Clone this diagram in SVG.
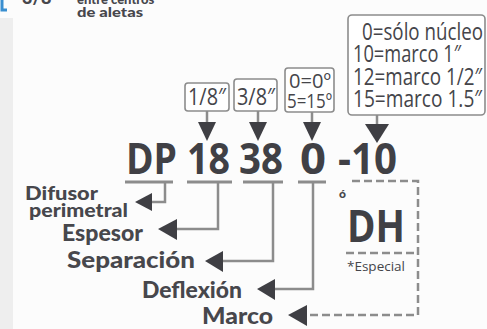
<svg xmlns="http://www.w3.org/2000/svg" width="487" height="329" viewBox="0 0 487 329">
<defs>
<style>
.bg{fill:#fcfcfc}
.big{font-family:"Open Sans","DejaVu Sans",sans-serif;font-weight:700;fill:#404045}
.lbl{font-family:"Lato","DejaVu Sans",sans-serif;font-weight:900;fill:#47474c}
.box{fill:#ffffff;stroke:#8c8c8c;stroke-width:1.6}
.bt{font-family:"Open Sans","DejaVu Sans",sans-serif;fill:#45454a}
.ul{stroke:#8c8c8c;stroke-width:3;fill:none}
.cn{stroke:#8c8c8c;stroke-width:2.5;fill:none}
.dash{stroke:#8c8c8c;stroke-width:2.5;fill:none;stroke-dasharray:8 4}
.ah{fill:#3f3f44}
</style>
</defs>
<rect class="bg" x="0" y="0" width="487" height="329"/>
<rect x="0" y="18" width="13" height="311" fill="#eeeeee"/>

<g id="header">
<path d="M2 0 V10 H7" stroke="#3a8fd0" stroke-width="3" fill="none"/>
<text class="lbl" x="22" y="4" font-size="18">3/8</text>
<text class="lbl" x="77" y="4" font-size="13">entre centros</text>
<text class="lbl" x="77" y="17" font-size="14" textLength="66" lengthAdjust="spacingAndGlyphs">de aletas</text>
</g>

<g id="code">
<text class="big" x="126" y="174" font-size="43" textLength="51" lengthAdjust="spacingAndGlyphs">DP</text>
<text class="big" x="187" y="174" font-size="43" textLength="43" lengthAdjust="spacingAndGlyphs">18</text>
<text class="big" x="239" y="174" font-size="43" textLength="44" lengthAdjust="spacingAndGlyphs">38</text>
<text class="big" x="300" y="174" font-size="43" textLength="26" lengthAdjust="spacingAndGlyphs">0</text>
<text class="big" x="338" y="174" font-size="43" textLength="59" lengthAdjust="spacingAndGlyphs">-10</text>
</g>

<g id="box-18">
<rect class="box" x="185" y="83" width="44" height="28" rx="3"/>
<text class="bt" x="188" y="105" font-size="23" textLength="38" lengthAdjust="spacingAndGlyphs">1/8″</text>
</g>
<g id="box-38">
<rect class="box" x="234" y="79" width="43" height="32" rx="3"/>
<text class="bt" x="237" y="105" font-size="23" textLength="38" lengthAdjust="spacingAndGlyphs">3/8″</text>
</g>
<g id="box-0">
<rect class="box" x="285" y="68" width="49" height="44" rx="3"/>
<text class="bt" x="289" y="88" font-size="20" textLength="42" lengthAdjust="spacingAndGlyphs">0=0º</text>
<text class="bt" x="287" y="108" font-size="20" textLength="45" lengthAdjust="spacingAndGlyphs">5=15º</text>
</g>
<g id="box-10">
<rect class="box" x="348" y="15" width="137" height="100" rx="4"/>
<text class="bt" x="362" y="40" font-size="23" textLength="121" lengthAdjust="spacingAndGlyphs">0=sólo núcleo</text>
<text class="bt" x="353" y="62" font-size="23" textLength="108" lengthAdjust="spacingAndGlyphs">10=marco 1″</text>
<text class="bt" x="353" y="85" font-size="23" textLength="129" lengthAdjust="spacingAndGlyphs">12=marco 1/2″</text>
<text class="bt" x="353" y="107" font-size="23" textLength="129" lengthAdjust="spacingAndGlyphs">15=marco 1.5″</text>
</g>

<g id="dh">
<text class="lbl" x="339" y="198" font-size="12">ó</text>
<text class="big" x="347" y="242" font-size="45" textLength="58" lengthAdjust="spacingAndGlyphs">DH</text>
<text class="bt" x="347" y="271" font-size="13" textLength="58" lengthAdjust="spacingAndGlyphs">*Especial</text>
</g>

<g id="labels">
<text class="lbl" x="25" y="200" font-size="19" textLength="73" lengthAdjust="spacingAndGlyphs">Difusor</text>
<text class="lbl" x="29" y="217" font-size="19" textLength="99" lengthAdjust="spacingAndGlyphs">perimetral</text>
<text class="lbl" x="62" y="241" font-size="22" textLength="81" lengthAdjust="spacingAndGlyphs">Espesor</text>
<text class="lbl" x="67" y="268" font-size="22" textLength="128" lengthAdjust="spacingAndGlyphs">Separación</text>
<text class="lbl" x="142" y="298" font-size="22" textLength="100" lengthAdjust="spacingAndGlyphs">Deflexión</text>
<text class="lbl" x="202" y="324" font-size="22" textLength="71" lengthAdjust="spacingAndGlyphs">Marco</text>
</g>

<g id="connectors">
<line class="ul" x1="125" y1="182" x2="173" y2="182"/>
<line class="ul" x1="187" y1="182" x2="232" y2="182"/>
<line class="ul" x1="243" y1="182" x2="283" y2="182"/>
<line class="ul" x1="298" y1="182" x2="326" y2="182"/>
<path class="cn" d="M165 182 V202 H148"/>
<path class="cn" d="M218 182 V229 H175"/>
<path class="cn" d="M273 182 V261 H220"/>
<path class="cn" d="M313 182 V289 H273"/>
<path class="dash" d="M352 181 H418 V315 H305"/>
<line class="dash" x1="346" y1="253" x2="418" y2="253"/>
<polygon class="ah" points="135,202 152,193 152,211"/>
<polygon class="ah" points="158,229 177,219 177,240"/>
<polygon class="ah" points="205,261 223,251 223,272"/>
<polygon class="ah" points="257,289 275,279 275,300"/>
<polygon class="ah" points="288,315 307,305 307,326"/>
<path class="cn" d="M207 111 V124"/>
<path class="cn" d="M258 111 V124"/>
<path class="cn" d="M312 112 V124"/>
<path class="cn" d="M377 115 V125"/>
<polygon class="ah" points="198,122 216,122 207,141"/>
<polygon class="ah" points="249,122 267,122 258,141"/>
<polygon class="ah" points="303,122 321,122 312,141"/>
<polygon class="ah" points="365,124 389,124 377,143"/>
</g>
</svg>
